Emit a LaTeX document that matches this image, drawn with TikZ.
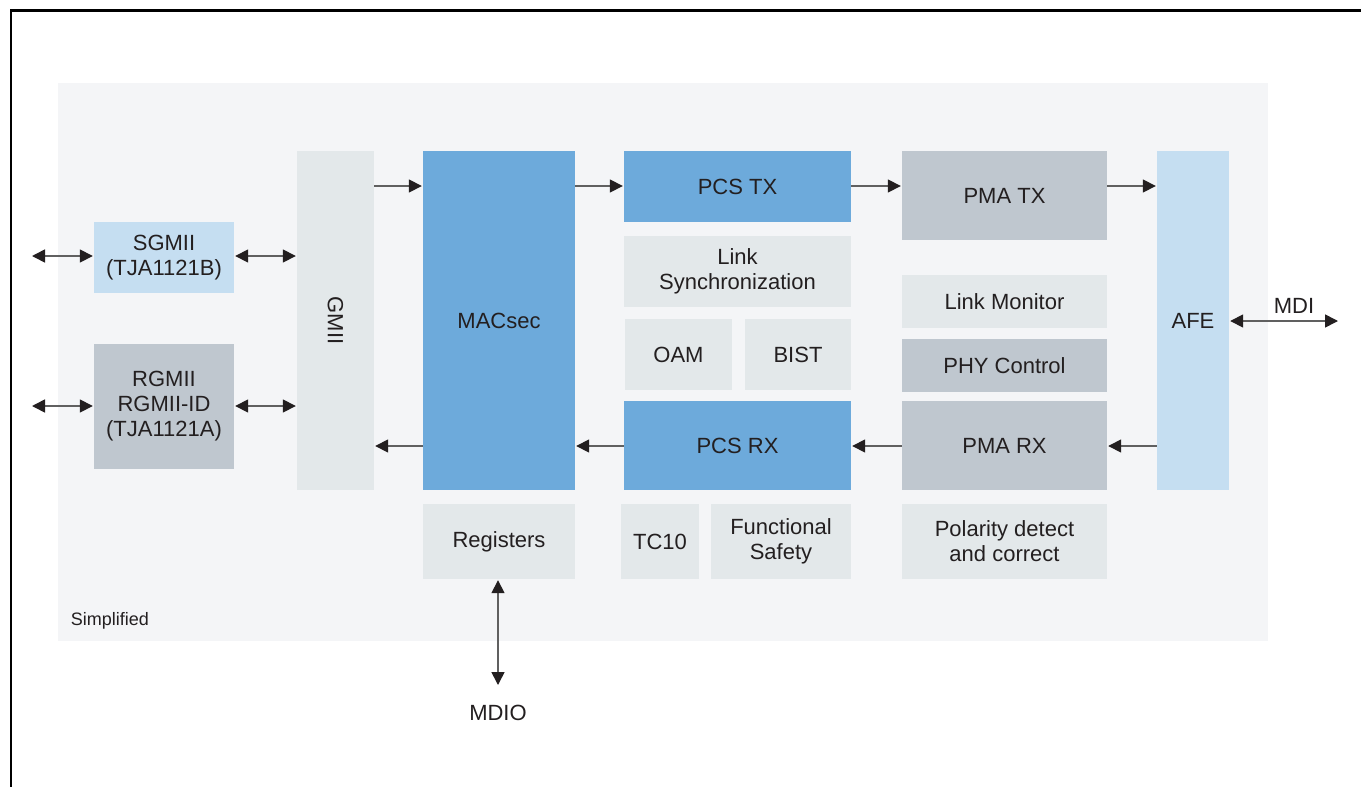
\documentclass[tikz,border=0pt]{standalone}
\usepackage{fontspec}
\setmainfont{Liberation Sans}
\usetikzlibrary{arrows.meta,calc}
\definecolor{panel}{HTML}{F4F5F7}
\definecolor{lgray}{HTML}{E3E8EA}
\definecolor{mgray}{HTML}{BFC7CF}
\definecolor{bblue}{HTML}{6DAADB}
\definecolor{lblue}{HTML}{C5DEF1}
\definecolor{txt}{HTML}{231F20}
\definecolor{wire}{HTML}{606060}
\tikzset{
  blk/.style={draw=none, inner sep=0pt, align=center, text=txt,
    font=\fontsize{22}{25}\selectfont},
  lab/.style={inner sep=0pt, text=txt, font=\fontsize{22}{25}\selectfont},
  arr/.style={draw=wire, line width=1.6pt,
    -{Triangle[length=13pt,width=13pt,fill=txt,color=txt]}, shorten >=1pt},
  darr/.style={draw=wire, line width=1.6pt,
    {Triangle[length=13pt,width=13pt,fill=txt,color=txt]}-{Triangle[length=13pt,width=13pt,fill=txt,color=txt]},
    shorten >=1pt, shorten <=1pt}
}
\begin{document}
\begin{tikzpicture}[x=1pt,y=-1pt]
\useasboundingbox (0,0) rectangle (1361,787);
\fill[white] (0,0) rectangle (1361,787);
% frame
\draw[line width=2.4pt, black] (11.2,787) -- (11.2,10.5) -- (1361,10.5);
% panel
\fill[panel] (58,83) rectangle (1268,641);
\node[lab, font=\fontsize{18}{20}\selectfont] (simp) at (110,621) {Simplified};

% blocks
\node[blk, fill=lblue, minimum width=140pt, minimum height=71pt] (sgmii) at (164,257.5) {SGMII\\(TJA1121B)};
\node[blk, fill=mgray, minimum width=140pt, minimum height=125pt] (rgmii) at (164,406.5) {RGMII\\RGMII-ID\\(TJA1121A)};
\node[blk, fill=lgray, minimum width=77pt, minimum height=339pt] (gmii) at (335.5,320.5) {};
\node[lab, rotate=-90] (gmiit) at (gmii.center) {GMII};
\node[blk, fill=bblue, minimum width=152pt, minimum height=339pt] (macsec) at (499,320.5) {MACsec};
\node[blk, fill=bblue, minimum width=227pt, minimum height=71pt] (pcstx) at (737.5,186.5) {PCS TX};
\node[blk, fill=lgray, minimum width=227pt, minimum height=71pt] (lsync) at (737.5,271.5) {Link\\Synchronization};
\node[blk, fill=lgray, minimum width=107pt, minimum height=71pt] (oam) at (678.5,354.5) {OAM};
\node[blk, fill=lgray, minimum width=106pt, minimum height=71pt] (bist) at (798,354.5) {BIST};
\node[blk, fill=bblue, minimum width=227pt, minimum height=89pt] (pcsrx) at (737.5,445.5) {PCS RX};
\node[blk, fill=lgray, minimum width=152pt, minimum height=75pt] (reg) at (499,541.5) {Registers};
\node[blk, fill=lgray, minimum width=78pt, minimum height=75pt] (tc10) at (660,541.5) {TC10};
\node[blk, fill=lgray, minimum width=140pt, minimum height=75pt] (fsafe) at (781,541.5) {Functional\\Safety};
\node[blk, fill=mgray, minimum width=205pt, minimum height=89pt] (pmatx) at (1004.5,195.5) {PMA TX};
\node[blk, fill=lgray, minimum width=205pt, minimum height=53pt] (lmon) at (1004.5,301.5) {Link Monitor};
\node[blk, fill=mgray, minimum width=205pt, minimum height=53pt] (phyc) at (1004.5,365.5) {PHY Control};
\node[blk, fill=mgray, minimum width=205pt, minimum height=89pt] (pmarx) at (1004.5,445.5) {PMA RX};
\node[blk, fill=lgray, minimum width=205pt, minimum height=75pt] (pol) at (1004.5,541.5) {Polarity detect\\and correct};
\node[blk, fill=lblue, minimum width=72pt, minimum height=339pt] (afe) at (1193,320.5) {AFE};

% free ends
\coordinate (sgl) at (31,256);
\coordinate (rgl) at (31,406);
\coordinate (mdiend) at (1339,321);
\coordinate (mdioend) at (498,686);

% TX path
\coordinate (ty) at (0,186);
\draw[arr] (gmii.east |- ty) -- (macsec.west |- ty);
\draw[arr] (macsec.east |- ty) -- (pcstx.west |- ty);
\draw[arr] (pcstx.east |- ty) -- (pmatx.west |- ty);
\draw[arr] (pmatx.east |- ty) -- (afe.west |- ty);
% RX path
\coordinate (ry) at (0,446);
\draw[arr] (afe.west |- ry) -- (pmarx.east |- ry);
\draw[arr] (pmarx.west |- ry) -- (pcsrx.east |- ry);
\draw[arr] (pcsrx.west |- ry) -- (macsec.east |- ry);
\draw[arr] (macsec.west |- ry) -- (gmii.east |- ry);
% MII interfaces
\draw[darr] (sgl) -- (sgmii.west |- sgl);
\draw[darr] (sgmii.east |- sgl) -- (gmii.west |- sgl);
\draw[darr] (rgl) -- (rgmii.west |- rgl);
\draw[darr] (rgmii.east |- rgl) -- (gmii.west |- rgl);
% MDI
\draw[darr] (afe.east |- mdiend) -- (mdiend);
\node[lab] (mdi) at (1294,306) {MDI};
% MDIO
\draw[darr] (reg.south -| mdioend) -- (mdioend);
\node[lab] (mdio) at (498,713) {MDIO};
\end{tikzpicture}
\end{document}
